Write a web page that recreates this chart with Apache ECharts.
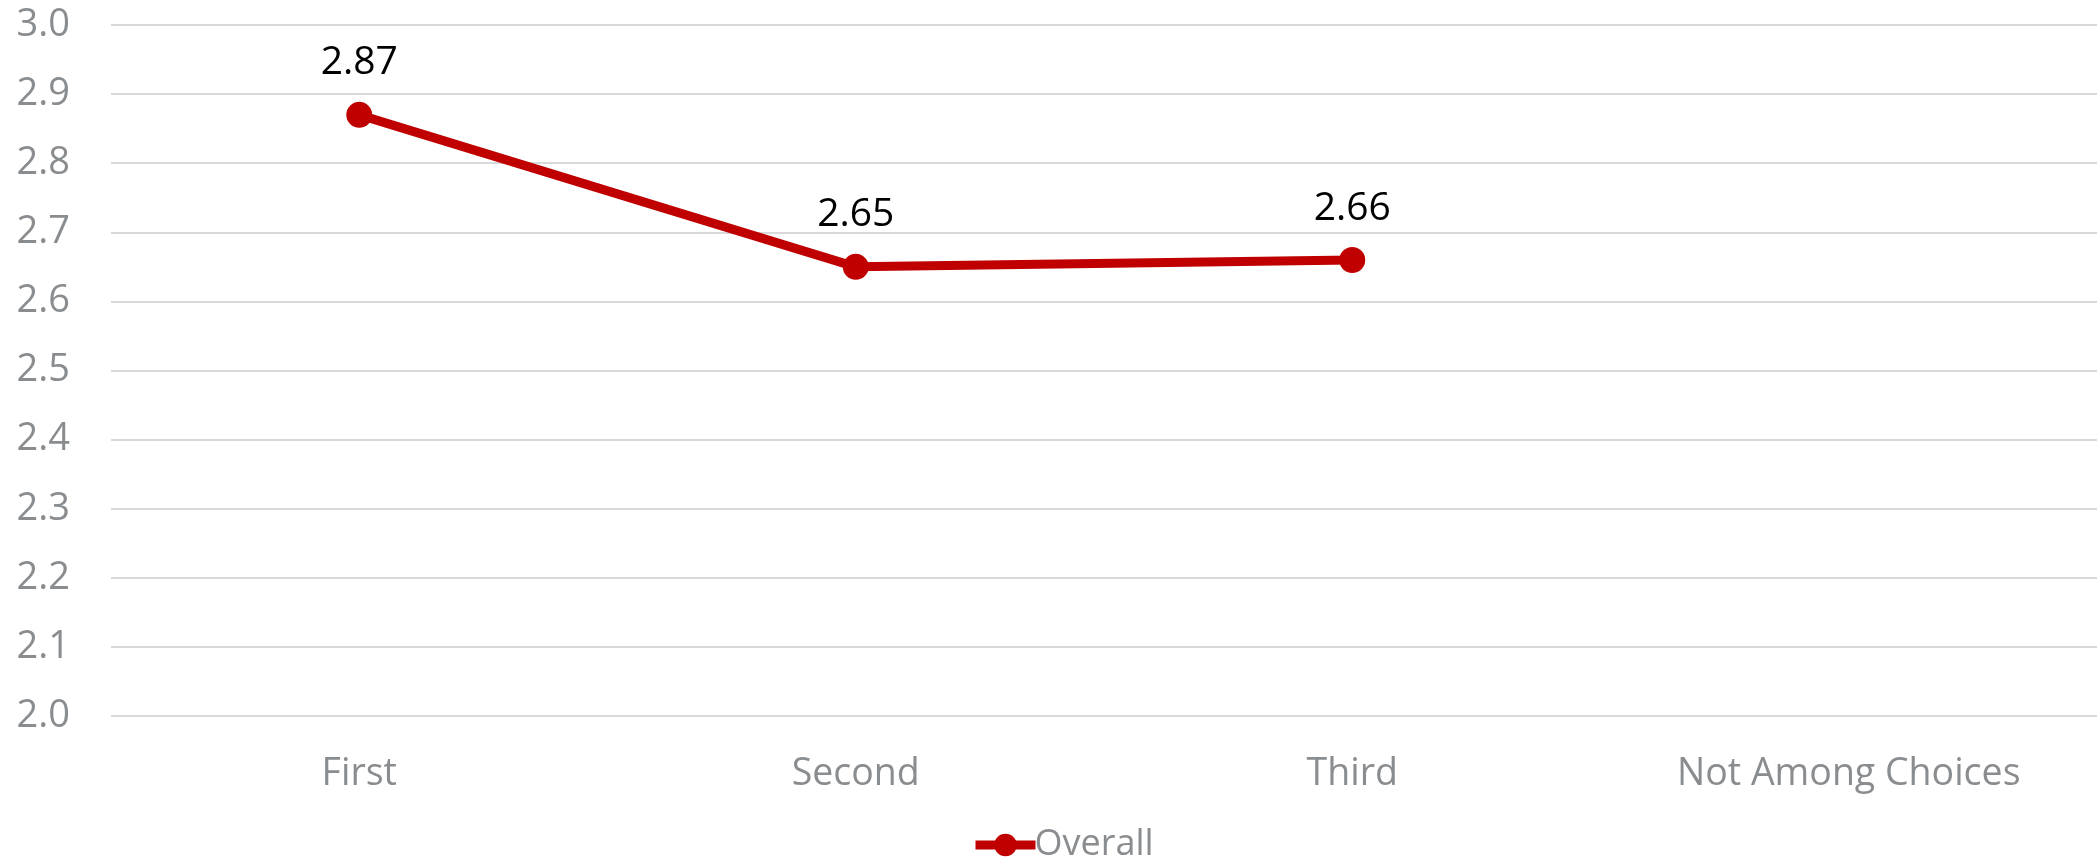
<!DOCTYPE html>
<html>
<head>
<meta charset="utf-8">
<script src="https://cdn.jsdelivr.net/npm/echarts@6/dist/echarts.min.js"></script>
<style>
html,body{margin:0;padding:0;background:#fff;}
#chart{width:2099px;height:862px;}
</style>
</head>
<body>
<div id="chart"></div>
<script>
var categories = ['First', 'Second', 'Third', 'Not Among Choices'];
var overall = [2.87, 2.65, 2.66, null];
var seriesName = 'Overall';
var yMin = 2.0, yMax = 3.0, yStep = 0.1;

var chart = echarts.init(document.getElementById('chart'), null, {renderer: 'canvas'});
var font = '"Open Sans", "Noto Sans", sans-serif';
chart.setOption({
  animation: false,
  backgroundColor: '#ffffff',
  grid: {left: 111, right: 2, top: 25, bottom: 146, containLabel: false},
  legend: {
    data: [seriesName],
    left: 966,
    top: 822,
    itemWidth: 60,
    itemHeight: 28,
    itemGap: 10,
    lineStyle: {width: 9, color: '#c00000'},
    textStyle: {fontFamily: font, fontSize: 36, color: '#8a8d90', padding: [0,0,0,-6]}
  },
  xAxis: {
    type: 'category',
    data: categories,
    boundaryGap: true,
    axisLine: {show: false},
    axisTick: {show: false},
    axisLabel: {fontFamily: font, fontSize: 37.5, color: '#8a8d90', margin: 39, interval: 0}
  },
  yAxis: {
    type: 'value',
    min: yMin,
    max: yMax,
    interval: yStep,
    axisLine: {show: false},
    axisTick: {show: false},
    splitLine: {lineStyle: {color: '#d9d9d9', width: 2}},
    axisLabel: {fontFamily: font, fontSize: 38, color: '#8a8d90', margin: 41,
      formatter: function (v) { return v.toFixed(1); }}
  },
  series: [{
    name: seriesName,
    type: 'line',
    data: overall,
    symbol: 'circle',
    symbolSize: 26,
    lineStyle: {color: '#c00000', width: 9},
    itemStyle: {color: '#c00000'},
    label: {
      show: true,
      position: 'top',
      distance: 19,
      fontFamily: font,
      fontSize: 39,
      color: '#000000',
      formatter: function (p) { return p.value.toFixed(2); }
    }
  }]
});
</script>
</body>
</html>
